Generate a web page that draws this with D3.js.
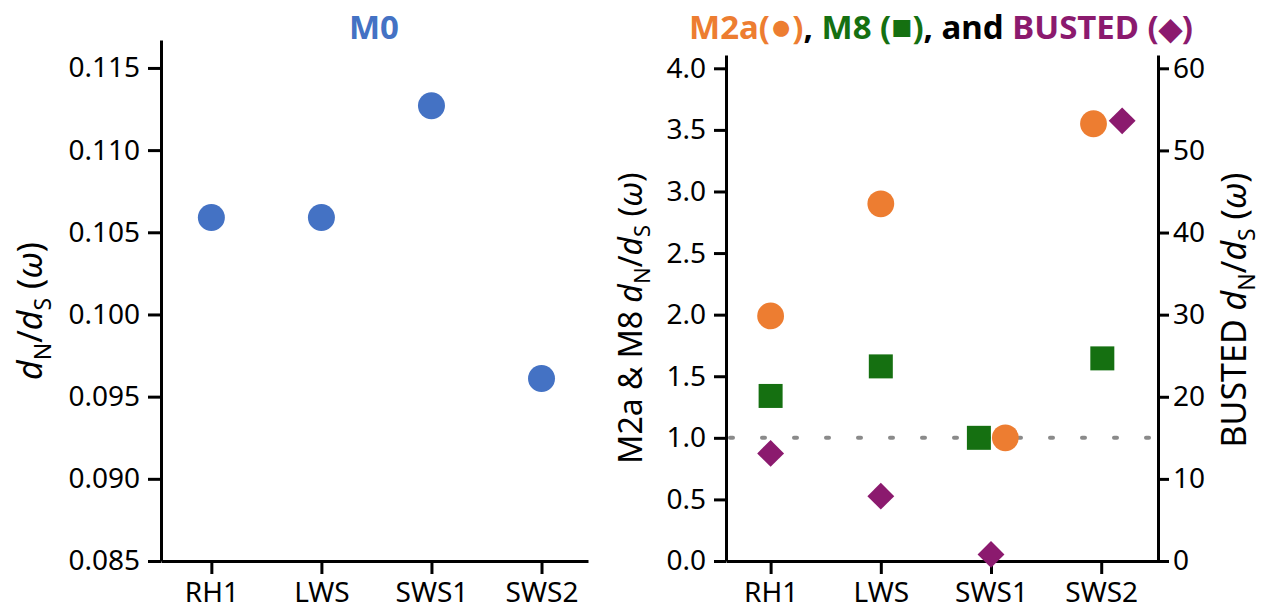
<!DOCTYPE html>
<html lang="en">
<head>
  <meta charset="utf-8">
  <script src="https://cdn.jsdelivr.net/npm/d3@7"></script>
  <style>
    body{margin:0;background:#fff;}
    text{font-family:"Noto Sans","Open Sans",sans-serif;}
    .axis path,.axis line{stroke:#000;stroke-width:3px;}
    .axis text{font-size:28px;fill:#000;}
  </style>
</head>
<body>
<div id="chart"></div>
<script>
// categories and values
var genes=["RH1","LWS","SWS1","SWS2"];
var m0=[0.1059,0.1059,0.1127,0.0961];
var m2a=[1.99,2.90,1.00,3.55];
var m8=[1.34,1.58,1.00,1.645];
var busted=[13.1,7.9,0.8,53.6];
// small sideways dodge (fraction of a category step) where markers overlap
var m2aDodge=[0,0,0.13,-0.07];
var m8Dodge=[0,0,-0.11,0.01];
var bustedDodge=[0,0,0,0.19];

var leftTicks=[0.085,0.090,0.095,0.100,0.105,0.110,0.115];
var rightTicks=[0,0.5,1,1.5,2,2.5,3,3.5,4];
var bustedTicks=[0,10,20,30,40,50,60];

var blue="#4472C4",orange="#ED7D31",green="#157011",purple="#8B1A6E";

var svg=d3.select("#chart").append("svg")
  .attr("width",1265)
  .attr("height",610);

var base=561;

//----- Left panel: M0
var x1=d3.scalePoint().domain(genes).range([161,588]).padding(0.44).align(0.52);
var y1=d3.scaleLinear().domain([0.085,0.1167]).range([base,40]);

svg.append("g")
  .attr("class","axis")
  .attr("transform","translate(0,"+base+")")
  .call(d3.axisBottom(x1).tickSize(13).tickSizeOuter(0).tickPadding(8));

svg.append("g")
  .attr("class","axis")
  .attr("transform","translate(161,0)")
  .call(d3.axisLeft(y1).tickValues(leftTicks).tickFormat(d3.format(".3f")).tickSize(13).tickSizeOuter(0).tickPadding(8));

svg.append("g")
  .selectAll("circle")
  .data(m0)
  .enter()
  .append("circle")
  .attr("cx",function(d,i){return x1(genes[i]);})
  .attr("cy",function(d){return y1(d);})
  .attr("r",13.5)
  .attr("fill",blue);

svg.append("text")
  .attr("x",374)
  .attr("y",39)
  .attr("text-anchor","middle")
  .style("font-size","33px")
  .style("font-weight","bold")
  .style("fill",blue)
  .text("M0");

//----- Right panel: M2a, M8, BUSTED
var x2=d3.scalePoint().domain(genes).range([726,1158]).padding(0.46).align(0.44);
var y2=d3.scaleLinear().domain([0,4.108]).range([base,55]);
var y3=d3.scaleLinear().domain([0,61.62]).range([base,55]);

svg.append("g")
  .attr("class","axis")
  .attr("transform","translate(0,"+base+")")
  .call(d3.axisBottom(x2).tickSize(13).tickSizeOuter(0).tickPadding(8));

svg.append("g")
  .attr("class","axis")
  .attr("transform","translate(726,0)")
  .call(d3.axisLeft(y2).tickValues(rightTicks).tickFormat(d3.format(".1f")).tickSize(12).tickSizeOuter(0).tickPadding(8));

svg.append("g")
  .attr("class","axis")
  .attr("transform","translate(1158,0)")
  .call(d3.axisRight(y3).tickValues(bustedTicks).tickSize(11).tickSizeOuter(0).tickPadding(4));

// omega = 1 reference line
svg.append("line")
  .attr("x1",730)
  .attr("x2",1156)
  .attr("y1",y2(1))
  .attr("y2",y2(1))
  .style("stroke","#8a8a8a")
  .style("stroke-width",4)
  .style("stroke-linecap","round")
  .style("stroke-dasharray","3,29");

var step=x2.step();

svg.append("g")
  .selectAll("path")
  .data(m8)
  .enter()
  .append("path")
  .attr("d",d3.symbol().type(d3.symbolSquare).size(24*24))
  .attr("transform",function(d,i){return "translate("+(x2(genes[i])+m8Dodge[i]*step)+","+y2(d)+")";})
  .attr("fill",green);

svg.append("g")
  .selectAll("circle")
  .data(m2a)
  .enter()
  .append("circle")
  .attr("cx",function(d,i){return x2(genes[i])+m2aDodge[i]*step;})
  .attr("cy",function(d){return y2(d);})
  .attr("r",13.4)
  .attr("fill",orange);

svg.append("g")
  .selectAll("path")
  .data(busted)
  .enter()
  .append("path")
  .attr("d",d3.symbol().type(d3.symbolSquare).size(19*19))
  .attr("transform",function(d,i){return "translate("+(x2(genes[i])+bustedDodge[i]*step)+","+y3(d)+") rotate(45)";})
  .attr("fill",purple);

// title with coloured parts
var t=svg.append("text")
  .attr("x",941)
  .attr("y",39)
  .attr("text-anchor","middle")
  .style("font-size","33px")
  .style("font-weight","bold");
t.append("tspan").style("fill",orange).text("M2a(");
t.append("tspan").style("fill",orange).style("font-size","37px").text("\u25CF");
t.append("tspan").style("fill",orange).text(")");
t.append("tspan").style("fill","#000").text(", ");
t.append("tspan").style("fill",green).text("M8 (");
t.append("tspan").style("fill",green).style("font-size","35px").text("\u25A0");
t.append("tspan").style("fill",green).text(")");
t.append("tspan").style("fill","#000").text(", and ");
t.append("tspan").style("fill",purple).text("BUSTED (");
t.append("tspan").style("fill",purple).style("font-size","30px").text("\u25C6");
t.append("tspan").style("fill",purple).text(")");

//----- axis titles with italic d and subscripts
function omegaLabel(x,y,prefix,size){
  var sub=Math.round(size*0.68), sh=Math.round(size*0.25);
  var lab=svg.append("text")
    .attr("transform","translate("+x+","+y+") rotate(-90)")
    .attr("text-anchor","middle")
    .style("font-size",size+"px")
    .style("fill","#000");
  if(prefix) lab.append("tspan").text(prefix);
  lab.append("tspan").style("font-style","italic").text("d");
  lab.append("tspan").attr("dy",sh).style("font-size",sub+"px").text("N");
  lab.append("tspan").attr("dy",-sh).text("/");
  lab.append("tspan").style("font-style","italic").text("d");
  lab.append("tspan").attr("dy",sh).style("font-size",sub+"px").text("S");
  lab.append("tspan").attr("dy",-sh).text(" (");
  lab.append("tspan").style("font-style","italic").text("\u03C9");
  lab.append("tspan").text(")");
}

omegaLabel(42,311,null,34);
omegaLabel(642,318,"M2a & M8 ",32);
omegaLabel(1246,310,"BUSTED ",34);
</script>
</body>
</html>
